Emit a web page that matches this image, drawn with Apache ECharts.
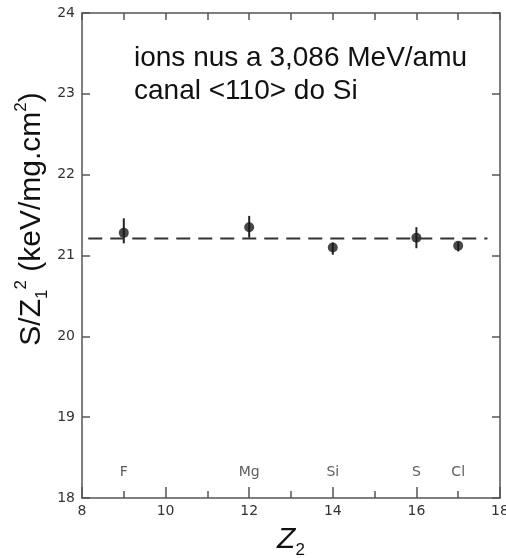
<!DOCTYPE html>
<html>
<head>
<meta charset="utf-8">
<script src="https://cdn.jsdelivr.net/npm/echarts@6/dist/echarts.min.js"></script>
<style>html,body{margin:0;padding:0;background:#fff;}#c{width:506px;height:558px;}</style>
</head>
<body>
<div id="c"></div>
<script>
// ---- data ----
const z2 = [9, 12, 14, 16, 17];
const stopping = [21.28, 21.35, 21.10, 21.22, 21.12];
const errLow = [21.15, 21.22, 21.01, 21.09, 21.05];
const errHigh = [21.46, 21.49, 21.16, 21.35, 21.17];
const elementNames = ['F', 'Mg', 'Si', 'S', 'Cl'];
const elementLabelY = 18.32;
const meanValue = 21.21;
const meanRange = [8.15, 17.7];
const xTicks = [8, 10, 12, 14, 16, 18];
const yTicks = [18, 19, 20, 21, 22, 23, 24];

const chart = echarts.init(document.getElementById('c'), null, {renderer: 'canvas'});
const axisColor = '#555';
const labelFont = {color: '#333', fontFamily: 'DejaVu Sans', fontSize: 14};

const option = {
  animation: false,
  backgroundColor: '#fff',
  grid: {left: 82, right: 6, top: 13, bottom: 60, containLabel: false, outerBoundsMode: 'none'},
  xAxis: [
    {
      type: 'value', position: 'bottom', min: xTicks[0], max: xTicks[xTicks.length - 1], interval: 2,
      axisLine: {lineStyle: {color: axisColor, width: 1.5}},
      axisTick: {inside: true, length: 11, lineStyle: {color: axisColor, width: 1.5}},
      minorTick: {show: true, splitNumber: 2, length: 7, lineStyle: {color: axisColor, width: 1.5}},
      axisLabel: Object.assign({margin: 6}, labelFont),
      splitLine: {show: false}
    },
    {
      type: 'value', position: 'top', min: xTicks[0], max: xTicks[xTicks.length - 1], interval: 1,
      axisLine: {lineStyle: {color: axisColor, width: 1.5}},
      axisTick: {inside: true, length: 7, lineStyle: {color: axisColor, width: 1.5}},
      axisLabel: {show: false},
      splitLine: {show: false}
    }
  ],
  yAxis: [
    {
      type: 'value', position: 'left', min: yTicks[0], max: yTicks[yTicks.length - 1], interval: 1,
      axisLine: {lineStyle: {color: axisColor, width: 1.5}},
      axisTick: {inside: true, length: 8, lineStyle: {color: axisColor, width: 1.5}},
      axisLabel: Object.assign({margin: 7}, labelFont),
      splitLine: {show: false}
    },
    {
      type: 'value', position: 'right', min: yTicks[0], max: yTicks[yTicks.length - 1], interval: 1,
      axisLine: {lineStyle: {color: axisColor, width: 1.5}},
      axisTick: {inside: true, length: 8, lineStyle: {color: axisColor, width: 1.5}},
      axisLabel: {show: false},
      splitLine: {show: false}
    }
  ],
  series: [
    {
      type: 'line', xAxisIndex: 0, yAxisIndex: 0, symbol: 'none',
      data: [[meanRange[0], meanValue], [meanRange[1], meanValue]],
      lineStyle: {color: '#333', width: 2, type: [14, 8]}
    },
    {
      type: 'custom', xAxisIndex: 0, yAxisIndex: 0,
      data: z2.map((z, i) => [z, errLow[i], errHigh[i]]),
      renderItem: function (params, api) {
        const lo = api.coord([api.value(0), api.value(1)]);
        const hi = api.coord([api.value(0), api.value(2)]);
        return {type: 'line', shape: {x1: lo[0], y1: lo[1], x2: hi[0], y2: hi[1]},
                style: {stroke: '#222', lineWidth: 2}};
      }
    },
    {
      type: 'scatter', xAxisIndex: 0, yAxisIndex: 0, symbol: 'circle', symbolSize: 10,
      itemStyle: {color: '#1a1a1a'},
      data: z2.map((z, i) => [z, stopping[i]])
    },
    {
      type: 'scatter', xAxisIndex: 0, yAxisIndex: 0, symbolSize: 0, silent: true,
      data: z2.map((z, i) => ({value: [z, elementLabelY], name: elementNames[i]})),
      label: Object.assign({show: true, position: 'inside', formatter: p => p.name}, labelFont)
    }
  ],
  graphic: [
    {
      type: 'text', left: 134, top: 42,
      style: {
        text: 'ions nus a 3,086 MeV/amu\ncanal <110> do Si',
        font: '28px "Liberation Sans", Arial, sans-serif',
        lineHeight: 33, fill: '#111'
      }
    },
    {
      type: 'text', x: 32, y: 219, rotation: Math.PI / 2,
      style: {
        text: '{m|S/Z}{sub|1}{sup|2}{m| (keV/mg.cm}{sup|2}{m|)}',
        align: 'center', verticalAlign: 'middle',
        rich: {
          m: {fontFamily: 'Liberation Sans', fontSize: 30, lineHeight: 38, verticalAlign: 'middle', fill: '#111'},
          sub: {fontFamily: 'Liberation Sans', fontSize: 17, lineHeight: 17, verticalAlign: 'bottom', fill: '#111'},
          sup: {fontFamily: 'Liberation Sans', fontSize: 17, lineHeight: 17, verticalAlign: 'top', fill: '#111'}
        }
      }
    },
    {
      type: 'text', x: 291, y: 540,
      style: {
        text: '{m|Z}{sub|2}',
        align: 'center', verticalAlign: 'middle',
        rich: {
          m: {fontFamily: 'Liberation Sans', fontStyle: 'italic', fontSize: 30, lineHeight: 38, verticalAlign: 'middle', fill: '#111'},
          sub: {fontFamily: 'Liberation Sans', fontSize: 17, lineHeight: 17, verticalAlign: 'bottom', fill: '#111'}
        }
      }
    }
  ]
};
chart.setOption(option);
</script>
</body>
</html>
